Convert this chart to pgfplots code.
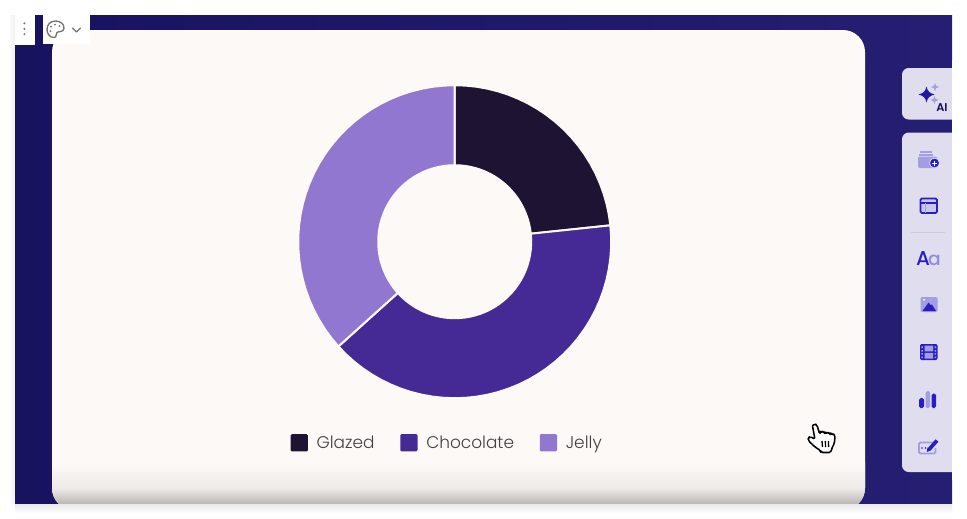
\documentclass[border=0pt]{standalone}
\usepackage{fontspec}
\setmainfont{Poppins}[UprightFont=* Light,BoldFont=* SemiBold]
\newfontfamily\iconfont{Poppins}[UprightFont=* Medium]
\usepackage{pgfplots}
\pgfplotsset{compat=1.18}
\usepgfplotslibrary{polar}
\definecolor{glazed}{HTML}{1E1333}
\definecolor{chocolate}{HTML}{452A95}
\definecolor{jelly}{HTML}{9277D0}
\definecolor{card}{HTML}{FDF9F6}
\definecolor{panel}{HTML}{E0DEEE}
\definecolor{icon}{HTML}{2A1DC4}
\definecolor{iconlt}{HTML}{A49DE2}
\definecolor{bgl}{HTML}{18135F}
\definecolor{bgr}{HTML}{261E72}
\begin{document}
\begin{tikzpicture}
\begin{scope}[x=0.75pt,y=-0.75pt]
  % page and soft shadow
  \fill[white] (0,0) rectangle (967,518);
  \shade[top color=black!10,bottom color=white] (15,503) rectangle (952,513);
  \shade[left color=white,right color=black!6] (8,15) rectangle (15,503);
  % screen
  \begin{scope}
    \clip (15,15) rectangle (952,503);
    \shade[left color=bgl,right color=bgr] (15,15) rectangle (952,503);
    \fill[card,rounded corners=16.5pt] (52,30) rectangle (865,510);
    \begin{scope}
      \clip[rounded corners=16.5pt] (52,30) rectangle (865,510);
      \shade[top color=card,bottom color=black!6!card] (52,462) rectangle (865,488);
      \shade[top color=black!6!card,bottom color=black!28!card] (52,488) rectangle (865,505);
    \end{scope}
  \end{scope}
  \coordinate (c) at (454.7,241.7);
\end{scope}

\begin{polaraxis}[
    at={(c)},anchor=center,
    hide axis,
    scale only axis,
    width=233.25pt,
    ymin=0,ymax=155.5,
    clip=false,
    legend columns=-1,
    legend style={
      at={(0.4768,-0.1465)},anchor=center,
      draw=none,fill=none,
      font=\fontsize{12.7pt}{15pt}\selectfont,
      text=black!75,
      /tikz/every even column/.append style={column sep=17.3pt},
      /tikz/every odd column/.append style={column sep=4.5pt},
    },
    legend image code/.code={
      \fill[#1,draw=none,rounded corners=1pt] (0pt,-6.5pt) rectangle (13pt,6.5pt);
    },
    every axis plot/.append style={draw=card,line width=1.5pt,line join=round},
  ]
  % Glazed 7
  \addplot[fill=glazed] coordinates {
    (90,156.5) (86,156.5) (82,156.5) (78,156.5) (74,156.5) (70,156.5) (66,156.5) (62,156.5)
    (58,156.5) (54,156.5) (50,156.5) (46,156.5) (42,156.5) (38,156.5) (34,156.5) (30,156.5)
    (26,156.5) (22,156.5) (18,156.5) (14,156.5) (10,156.5) (6,156.5)
    (6,76.5) (10,76.5) (14,76.5) (18,76.5) (22,76.5) (26,76.5) (30,76.5) (34,76.5)
    (38,76.5) (42,76.5) (46,76.5) (50,76.5) (54,76.5) (58,76.5) (62,76.5) (66,76.5)
    (70,76.5) (74,76.5) (78,76.5) (82,76.5) (86,76.5) (90,76.5)
  } --cycle;
  % Chocolate 12
  \addplot[fill=chocolate] coordinates {
    (6,156.5) (2,156.5) (-2,156.5) (-6,156.5) (-10,156.5) (-14,156.5) (-18,156.5) (-22,156.5)
    (-26,156.5) (-30,156.5) (-34,156.5) (-38,156.5) (-42,156.5) (-46,156.5) (-50,156.5) (-54,156.5)
    (-58,156.5) (-62,156.5) (-66,156.5) (-70,156.5) (-74,156.5) (-78,156.5) (-82,156.5) (-86,156.5)
    (-90,156.5) (-94,156.5) (-98,156.5) (-102,156.5) (-106,156.5) (-110,156.5) (-114,156.5) (-118,156.5)
    (-122,156.5) (-126,156.5) (-130,156.5) (-134,156.5) (-138,156.5)
    (-138,76.5) (-134,76.5) (-130,76.5) (-126,76.5) (-122,76.5) (-118,76.5) (-114,76.5) (-110,76.5)
    (-106,76.5) (-102,76.5) (-98,76.5) (-94,76.5) (-90,76.5) (-86,76.5) (-82,76.5) (-78,76.5)
    (-74,76.5) (-70,76.5) (-66,76.5) (-62,76.5) (-58,76.5) (-54,76.5) (-50,76.5) (-46,76.5)
    (-42,76.5) (-38,76.5) (-34,76.5) (-30,76.5) (-26,76.5) (-22,76.5) (-18,76.5) (-14,76.5)
    (-10,76.5) (-6,76.5) (-2,76.5) (2,76.5) (6,76.5)
  } --cycle;
  % Jelly 11
  \addplot[fill=jelly] coordinates {
    (222,156.5) (218,156.5) (214,156.5) (210,156.5) (206,156.5) (202,156.5) (198,156.5) (194,156.5)
    (190,156.5) (186,156.5) (182,156.5) (178,156.5) (174,156.5) (170,156.5) (166,156.5) (162,156.5)
    (158,156.5) (154,156.5) (150,156.5) (146,156.5) (142,156.5) (138,156.5) (134,156.5) (130,156.5)
    (126,156.5) (122,156.5) (118,156.5) (114,156.5) (110,156.5) (106,156.5) (102,156.5) (98,156.5)
    (94,156.5) (90,156.5)
    (90,76.5) (94,76.5) (98,76.5) (102,76.5) (106,76.5) (110,76.5) (114,76.5) (118,76.5)
    (122,76.5) (126,76.5) (130,76.5) (134,76.5) (138,76.5) (142,76.5) (146,76.5) (150,76.5)
    (154,76.5) (158,76.5) (162,76.5) (166,76.5) (170,76.5) (174,76.5) (178,76.5) (182,76.5)
    (186,76.5) (190,76.5) (194,76.5) (198,76.5) (202,76.5) (206,76.5) (210,76.5) (214,76.5)
    (218,76.5) (222,76.5)
  } --cycle;
  \legend{Glazed,Chocolate,Jelly}
\end{polaraxis}

\begin{scope}[x=0.75pt,y=-0.75pt]
  % top-left widgets
  \fill[white] (15,15) rectangle (35,45);
  \fill[white] (42.5,15) rectangle (89.5,44);
  \fill[black!55] (24.4,23.3) circle (1.1) (24.4,28.8) circle (1.1) (24.4,34.2) circle (1.1);
  \draw[black!55,line width=1pt,line join=round]
    (55.5,21) .. controls (50,21) and (47,25) .. (47,29.5) .. controls (47,34) and (50,37.5) .. (54,37.5)
    .. controls (57,37.5) and (55.5,34) .. (57,32.5) .. controls (58.5,31) and (63.5,32.5) .. (64,28.5)
    .. controls (64.5,24) and (60,21) .. (55.5,21) -- cycle;
  \fill[black!55] (51,26.5) circle (1) (55,24.5) circle (1) (59.5,26) circle (1) (50.5,31) circle (1);
  \draw[black!55,line width=1pt,line cap=round,line join=round] (72.5,28) -- (76.5,32) -- (80.5,28);

  % AI panel and tool panel
  \fill[panel,rounded corners=5pt] (902,68) rectangle (965,119.5);
  \fill[panel,rounded corners=5pt] (902,132.5) rectangle (965,472);
  \fill[white] (952,60) rectangle (967,480);
  % sparkle
  \fill[icon!80!black] (926.5,86.5) .. controls (927.5,91) and (929.5,93.3) .. (934.5,94.5)
     .. controls (929.5,95.7) and (927.5,98) .. (926.5,102.5) .. controls (925.5,98) and (923.5,95.7) .. (918.5,94.5)
     .. controls (923.5,93.3) and (925.5,91) .. (926.5,86.5) -- cycle;
  \fill[iconlt] (935,83) .. controls (935.5,85.5) and (936,86.5) .. (939,87)
     .. controls (936,87.5) and (935.5,88.5) .. (935,91) .. controls (934.5,88.5) and (934,87.5) .. (931,87)
     .. controls (934,86.5) and (934.5,85.5) .. (935,83) -- cycle;
  \fill[iconlt] (934.5,96) .. controls (935,98.5) and (935.5,99.5) .. (938.5,100)
     .. controls (935.5,100.5) and (935,101.5) .. (934.5,104) .. controls (934,101.5) and (933.5,100.5) .. (930.5,100)
     .. controls (933.5,99.5) and (934,98.5) .. (934.5,96) -- cycle;
  \node[font=\bfseries\fontsize{8.5pt}{9pt}\selectfont,text=glazed!80!blue,inner sep=0pt] at (942,107.7) {AI};
  % stack with plus
  \fill[iconlt] (920,150.5) rectangle (932,152.5);
  \fill[iconlt] (919,153.5) rectangle (933,155.5);
  \fill[iconlt,rounded corners=1pt] (918,156.5) rectangle (937,168);
  \fill[icon,draw=panel,line width=0.6pt] (934.5,163) circle (5);
  \draw[white,line width=0.7pt] (932,163) -- (937,163) (934.5,160.5) -- (934.5,165.5);
  % layout
  \fill[iconlt!35!panel] (921,199) rectangle (937,212.5);
  \draw[icon,line width=1.3pt,rounded corners=1pt] (920.5,198.5) rectangle (937,213);
  \draw[icon,line width=0.9pt] (920.5,203) -- (937,203);
  \draw[iconlt,line width=0.9pt] (925.5,203) -- (925.5,213);
  % separator
  \draw[black!8!panel,line width=0.6pt] (911,232.5) -- (945,232.5);
  % Aa
  \node[font=\iconfont\fontsize{15pt}{16pt}\selectfont,text=icon,inner sep=0pt,anchor=base] at (923,265.5) {A};
  \node[font=\iconfont\fontsize{14pt}{16pt}\selectfont,text=iconlt!85!icon,inner sep=0pt,anchor=base] at (934.5,265.5) {a};
  % image
  \fill[iconlt,rounded corners=1pt] (920.5,297) rectangle (937.5,312);
  \fill[icon] (922.5,311) -- (928.5,302.5) -- (930.5,305) -- (932,304.5) -- (936,311) -- cycle;
  \fill[white] (924,299.8) circle (1);
  % film
  \fill[icon,rounded corners=1pt] (920,344) rectangle (937.5,360);
  \fill[iconlt] (924.5,345.5) rectangle (933,351.3) (924.5,352.8) rectangle (933,358.5);
  \fill[iconlt] (921.4,346.3) rectangle (922.8,348) (921.4,350) rectangle (922.8,351.5)
    (921.4,353) rectangle (922.8,354.7) (921.4,356.5) rectangle (922.8,358)
    (934.7,346.3) rectangle (936.1,348) (934.7,350) rectangle (936.1,351.5)
    (934.7,353) rectangle (936.1,354.7) (934.7,356.5) rectangle (936.1,358);
  % bars
  \fill[icon,rounded corners=1.3pt] (919,398) rectangle (924,408);
  \fill[iconlt,rounded corners=1.3pt] (925.5,391) rectangle (930,408);
  \fill[icon,rounded corners=1.3pt] (931.5,393.5) rectangle (936,408);
  % edit
  \draw[iconlt,line width=1.3pt,rounded corners=1pt] (934,442.5) -- (919,442.5) -- (919,453.5) -- (935.5,453.5) -- (935.5,448);
  \fill[icon] (922,448) circle (0.9) (925.5,448) circle (0.9);
  \draw[icon,line width=2.8pt] (929,449.5) -- (937,440.5);
  \fill[icon] (926.8,452) -- (927.5,447.5) -- (930.5,450.5) -- cycle;

  % hand cursor
  \draw[white,fill=white,line width=1pt,rounded corners=1.5pt] (812.5,425) -- (817.5,425) -- (819,432) -- (834.5,434.5) -- (834,445) -- (831,452) -- (820,452) -- (808,440) -- (808.5,437) -- (813.5,438.5) -- cycle;
  \draw[black,line width=1.15pt,line join=round,rounded corners=1.3pt]
    (812.5,426) -- (814.5,423.5) -- (817,425) -- (819,432) -- (820,433)
    -- (821.5,431) -- (824,432) -- (825,433.5) -- (827,432.3) -- (829.5,433) -- (830.5,434.5)
    -- (832.5,433.3) -- (835,435) -- (834.5,443) -- (831.5,449) -- (831,452.5)
    -- (821,452.5) -- (820.5,450.5) -- (815,447) -- (808.2,440.5) -- (808,437.5) -- (810.5,436.5)
    -- (815,439.5) -- (812.5,426);
  \draw[black,line width=1pt] (822,441) -- (822.5,447) (825.3,441) -- (825.6,447) (828.5,441) -- (828.6,447);
\end{scope}
\end{tikzpicture}
\end{document}
